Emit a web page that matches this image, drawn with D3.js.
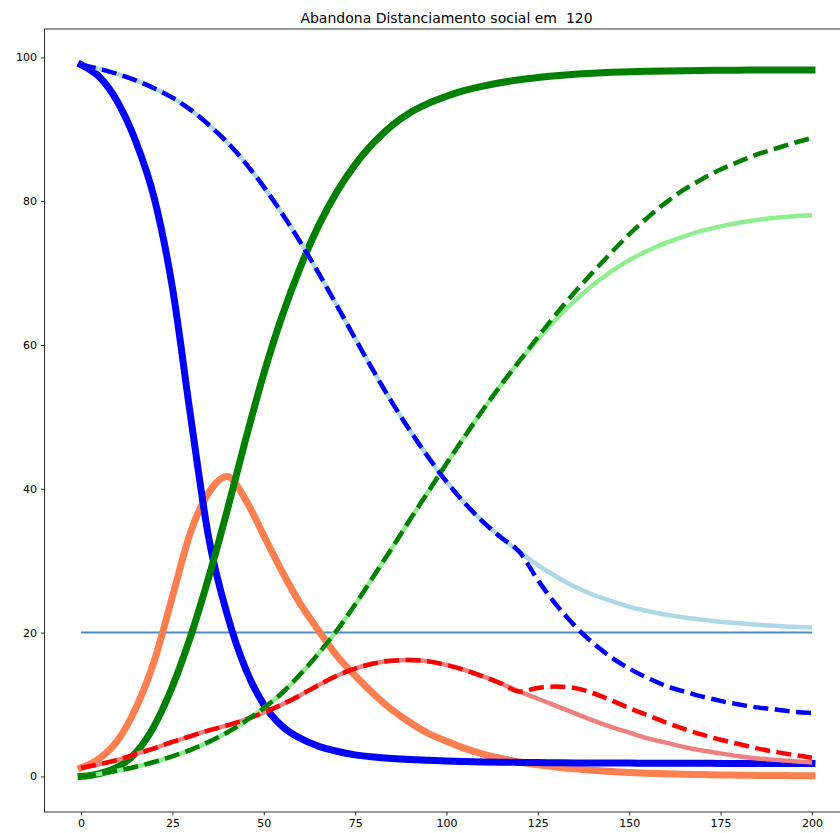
<!DOCTYPE html>
<html>
<head>
<meta charset="utf-8">
<script src="https://cdn.jsdelivr.net/npm/d3@7"></script>
<style>
	body { margin: 0; background: white; }
	text { font-family: "DejaVu Sans", sans-serif; }
</style>
</head>
<body>
<div id="chart"></div>
<script>
const days = [0, 5, 10, 15, 20, 25, 30, 35, 40, 45, 50, 55, 60, 65, 70, 75, 80, 85, 90, 95, 100,
	105, 110, 115, 120, 125, 130, 135, 140, 145, 150, 155, 160, 165, 170, 175, 180, 185, 190, 195, 200];

// sem distanciamento
const suscetiveis = [99, 97.3, 93.8, 88.3, 80.5, 68, 50, 33, 22.5, 15, 10, 7, 5.3, 4.2, 3.5, 3.0, 2.7, 2.5, 2.35, 2.25, 2.15,
	2.08, 2.02, 1.98, 1.95, 1.92, 1.9, 1.88, 1.87, 1.86, 1.85, 1.84, 1.83, 1.82, 1.82, 1.81, 1.81, 1.8, 1.8, 1.8, 1.8];
const infectados = [1.2, 2.5, 5, 9.5, 16, 25, 34, 39.5, 41.7, 38.5, 33.5, 28.5, 24, 20.3, 16.8, 14, 11.5, 9.3, 7.5, 6, 4.9,
	3.9, 3.1, 2.5, 2, 1.6, 1.3, 1.05, 0.85, 0.68, 0.55, 0.45, 0.37, 0.3, 0.25, 0.2, 0.17, 0.14, 0.12, 0.1, 0.08];
const recuperados = [0, 0.4, 1.3, 3.3, 7.0, 12.5, 19.5, 27.8, 37, 46.8, 56, 64, 70.8, 76.6, 81.3, 85.1, 88.1, 90.5, 92.3, 93.6, 94.6,
	95.4, 96.0, 96.5, 96.9, 97.2, 97.45, 97.65, 97.8, 97.92, 98.0, 98.07, 98.12, 98.16, 98.19, 98.21, 98.23, 98.24, 98.25, 98.25, 98.25];

// com distanciamento
const suscetiveisDist = [99, 98.4, 97.7, 96.8, 95.7, 94.4, 92.7, 90.6, 88.2, 85.3, 82.0, 78.3, 74.3, 70.0, 65.5, 60.9, 56.4, 52.1, 48.1, 44.4, 41.0,
	38.0, 35.4, 33.2, 31.2, 29.4, 27.8, 26.4, 25.3, 24.4, 23.6, 23.0, 22.5, 22.1, 21.8, 21.5, 21.3, 21.1, 20.95, 20.8, 20.7];
const infectadosDist = [1.2, 1.7, 2.3, 3.1, 3.9, 4.8, 5.6, 6.4, 7.1, 7.9, 8.9, 10.0, 11.3, 12.7, 14.0, 15.0, 15.7, 16.1, 16.2, 16.0, 15.5,
	14.8, 13.9, 12.9, 11.8, 10.8, 9.8, 8.8, 7.8, 6.9, 6.1, 5.3, 4.7, 4.1, 3.6, 3.2, 2.8, 2.5, 2.3, 2.1, 1.95];
const recuperadosDist = [0, 0.35, 0.8, 1.35, 2.0, 2.8, 3.7, 4.8, 6.1, 7.7, 9.5, 11.6, 14.2, 17.1, 20.3, 23.9, 27.8, 31.7, 35.7, 39.6, 43.5,
	47.3, 51, 54.5, 57.8, 60.8, 63.6, 66.1, 68.3, 70.2, 71.8, 73.1, 74.2, 75.1, 75.9, 76.5, 77.0, 77.4, 77.7, 77.9, 78.05];

// abandona distanciamento no dia 120
const suscetiveisAband = [99, 98.4, 97.7, 96.8, 95.7, 94.4, 92.7, 90.6, 88.2, 85.3, 82.0, 78.3, 74.3, 70.0, 65.5, 60.9, 56.4, 52.1, 48.1, 44.4, 41.0,
	38.0, 35.4, 33.2, 31.2, 27.3, 23.9, 21, 18.6, 16.6, 15, 13.7, 12.6, 11.8, 11.1, 10.5, 10, 9.6, 9.3, 9, 8.8];
const infectadosAband = [1.2, 1.7, 2.3, 3.1, 3.9, 4.8, 5.6, 6.4, 7.1, 7.9, 8.9, 10.0, 11.3, 12.7, 14.0, 15.0, 15.7, 16.1, 16.2, 16.0, 15.5,
	14.8, 13.9, 12.9, 11.8, 12.3, 12.5, 12.3, 11.6, 10.6, 9.5, 8.5, 7.5, 6.6, 5.8, 5.1, 4.5, 3.9, 3.4, 3.0, 2.6];
const recuperadosAband = [0, 0.35, 0.8, 1.35, 2.0, 2.8, 3.7, 4.8, 6.1, 7.7, 9.5, 11.6, 14.2, 17.1, 20.3, 23.9, 27.8, 31.7, 35.7, 39.6, 43.5,
	47.3, 51, 54.5, 57.8, 61.1, 64.3, 67.3, 70.1, 72.8, 75.4, 77.7, 79.8, 81.6, 83.1, 84.4, 85.5, 86.5, 87.3, 88.1, 88.8];

const capacidade = 20;
const diaAbandono = 120;
const xTicks = [0, 25, 50, 75, 100, 125, 150, 175, 200];
const yTicks = [0, 20, 40, 60, 80, 100];

let full_width = 840;
let full_height = 833;
let margin = {top: 29, bottom: 21, left: 44.5, right: -8.5};

let svg = d3.select('#chart')
	.append('svg')
		.attr('width', full_width)
		.attr('height', full_height);

let x = d3.scaleLinear()
	.domain([-10, 210])
	.range([margin.left, full_width - margin.right]);
let y = d3.scaleLinear()
	.domain([-4.95, 103.95])
	.range([full_height - margin.bottom, margin.top]);

// linha de capacidade
svg.append('line')
	.attr('x1', x(days[0]))
	.attr('x2', x(days[days.length - 1]))
	.attr('y1', y(capacidade))
	.attr('y2', y(capacidade))
	.attr('stroke', '#4a8cc4')
	.attr('stroke-width', 2);

let line = d3.line()
	.x((d, i) => x(days[i]))
	.y(d => y(d))
	.curve(d3.curveMonotoneX);

const series = [
	{values: infectados, color: 'coral', width: 7, cap: 'square'},
	{values: suscetiveis, color: 'blue', width: 7, cap: 'square'},
	{values: recuperados, color: 'green', width: 7, cap: 'square'},
	{values: suscetiveisDist, color: 'lightblue', width: 4.5, cap: 'butt'},
	{values: infectadosDist, color: 'lightcoral', width: 4.5, cap: 'butt'},
	{values: recuperadosDist, color: 'lightgreen', width: 4.5, cap: 'butt'},
	{values: suscetiveisAband, color: 'blue', width: 4.5, cap: 'butt', dash: '15 6.5'},
	{values: infectadosAband, color: 'red', width: 4.5, cap: 'butt', dash: '15 6.5'},
	{values: recuperadosAband, color: 'green', width: 4.5, cap: 'butt', dash: '15 6.5'}
];

svg.append('g')
	.selectAll('path')
	.data(series)
	.enter()
	.append('path')
		.attr('d', s => line(s.values))
		.attr('fill', 'none')
		.attr('stroke', s => s.color)
		.attr('stroke-width', s => s.width)
		.attr('stroke-dasharray', s => s.dash || null)
		.attr('stroke-linecap', s => s.cap);

// eixos
let xAxis = svg.append('g')
	.attr('transform', 'translate(0,' + (full_height - margin.bottom) + ')')
	.call(d3.axisBottom(x).tickValues(xTicks).tickSize(3.5).tickPadding(4));
let yAxis = svg.append('g')
	.attr('transform', 'translate(' + margin.left + ',0)')
	.call(d3.axisLeft(y).tickValues(yTicks).tickSize(3.5).tickPadding(4));
[xAxis, yAxis].forEach(a => {
	a.select('.domain').remove();
	a.selectAll('text').attr('font-size', '11px').attr('fill', '#000');
	a.selectAll('line').attr('stroke', '#000').attr('stroke-width', 0.8);
});

// moldura
svg.append('rect')
	.attr('x', margin.left)
	.attr('y', margin.top)
	.attr('width', full_width - margin.right - margin.left)
	.attr('height', full_height - margin.bottom - margin.top)
	.attr('fill', 'none')
	.attr('stroke', '#000')
	.attr('stroke-width', 0.8);

svg.append('text')
	.attr('x', (margin.left + full_width - margin.right) / 2)
	.attr('y', margin.top - 6)
	.attr('text-anchor', 'middle')
	.attr('font-size', '14px')
	.style('white-space', 'pre')
	.text('Abandona Distanciamento social em  ' + diaAbandono);
</script>
</body>
</html>
